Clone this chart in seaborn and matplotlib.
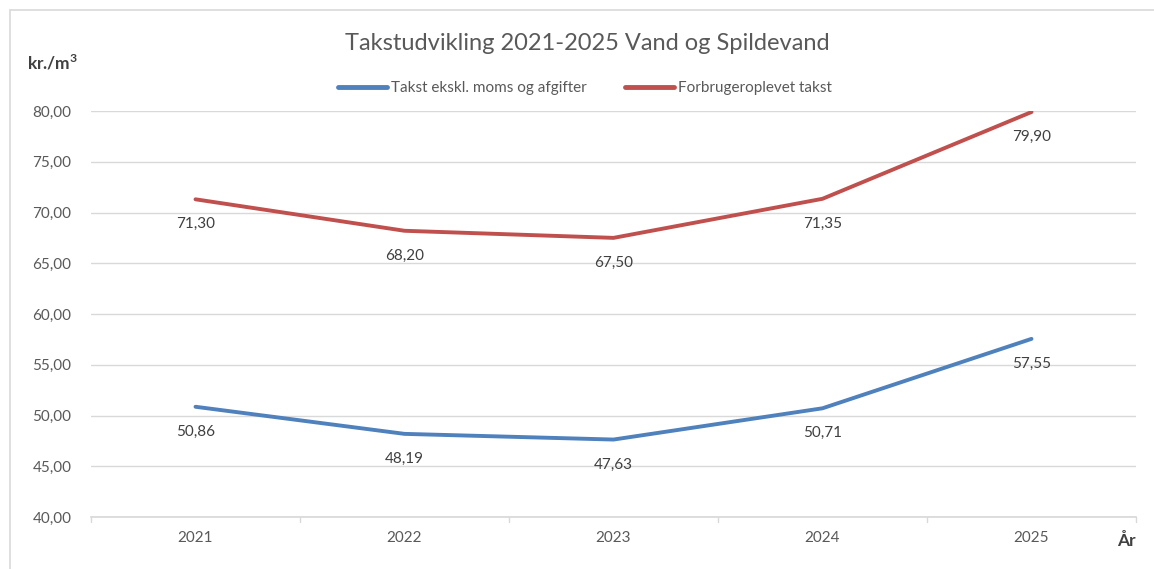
import matplotlib.pyplot as plt
import pandas as pd
import seaborn as sns
from matplotlib.patches import Rectangle

years = ["2021", "2022", "2023", "2024", "2025"]
takst_ekskl = [50.86, 48.19, 47.63, 50.71, 57.55]
forbruger = [71.30, 68.20, 67.50, 71.35, 79.90]
series_names = ["Takst ekskl. moms og afgifter", "Forbrugeroplevet takst"]
y_ticks = [40, 45, 50, 55, 60, 65, 70, 75, 80]

df = pd.DataFrame({
    "år": years * 2,
    "pos": list(range(len(years))) * 2,
    "takst": takst_ekskl + forbruger,
    "serie": [series_names[0]] * len(years) + [series_names[1]] * len(years),
})

sns.set_theme(style="white")
plt.rcParams["font.family"] = ["Lato", "DejaVu Sans"]
text_col = "#595959"
grid_col = "#d9d9d9"
palette = {series_names[0]: "#4f81bd", series_names[1]: "#c0504d"}

fig = plt.figure(figsize=(11.54, 5.69), dpi=100)
ax = fig.add_axes([91 / 1154, 1 - 517 / 569, 1045 / 1154, 406 / 569])

sns.lineplot(data=df, x="pos", y="takst", hue="serie", palette=palette,
             linewidth=2.8, ax=ax, legend=False, sort=False)

# data labels under each point
for _, row in df.iterrows():
    ax.annotate(f"{row['takst']:.2f}".replace(".", ","), (row["pos"], row["takst"]),
                xytext=(0, -18), textcoords="offset points", ha="center", va="center",
                fontsize=11, color="#404040")

ax.set_xlim(-0.5, len(years) - 0.5)
ax.set_ylim(40, 80)
ax.set_yticks(y_ticks)
ax.set_yticklabels([f"{v:.2f}".replace(".", ",") for v in y_ticks], fontsize=11, color=text_col)
ax.set_xticks(range(len(years)))
ax.set_xticklabels(years, fontsize=11, color=text_col)
ax.tick_params(axis="x", length=0, pad=10)
ax.tick_params(axis="y", length=0, pad=14)
ax.yaxis.grid(True, color=grid_col, linewidth=1)
ax.set_axisbelow(True)
for side in ["top", "right", "left"]:
    ax.spines[side].set_visible(False)
ax.spines["bottom"].set_color(grid_col)
ax.set_xlabel("")
ax.set_ylabel("")

# category boundary ticks on the x axis
for b in [i - 0.5 for i in range(len(years) + 1)]:
    ax.plot([b, b], [0, -0.012], transform=ax.get_xaxis_transform(), color=grid_col,
            linewidth=1, clip_on=False)

fig.text(587 / 1154, 1 - 43 / 569, "Takstudvikling 2021-2025 Vand og Spildevand",
         ha="center", va="center", fontsize=17, color=text_col)
fig.text(27 / 1154, 1 - 63 / 569, "kr./m$^\\mathregular{3}$", ha="left", va="center",
         fontsize=12.5, fontweight="bold", color="#404040")
fig.text(1136 / 1154, 1 - 541 / 569, "År", ha="right", va="center", fontsize=12.5,
         fontweight="bold", color="#404040")

handles = [plt.Line2D([], [], color=palette[n], linewidth=3.5) for n in series_names]
fig.legend(handles, series_names, loc="center", bbox_to_anchor=(585 / 1154, 1 - 88 / 569),
           ncol=2, frameon=False, fontsize=11, handlelength=3.2, handletextpad=0.25,
           columnspacing=2.5, labelcolor=text_col)

fig.patches.append(Rectangle((10 / 1154, -0.1), 1.2, 1.1 - 10 / 569, transform=fig.transFigure,
                             fill=False, edgecolor="#d9d9d9", linewidth=1.2))

fig.savefig("out.png", dpi=100)
